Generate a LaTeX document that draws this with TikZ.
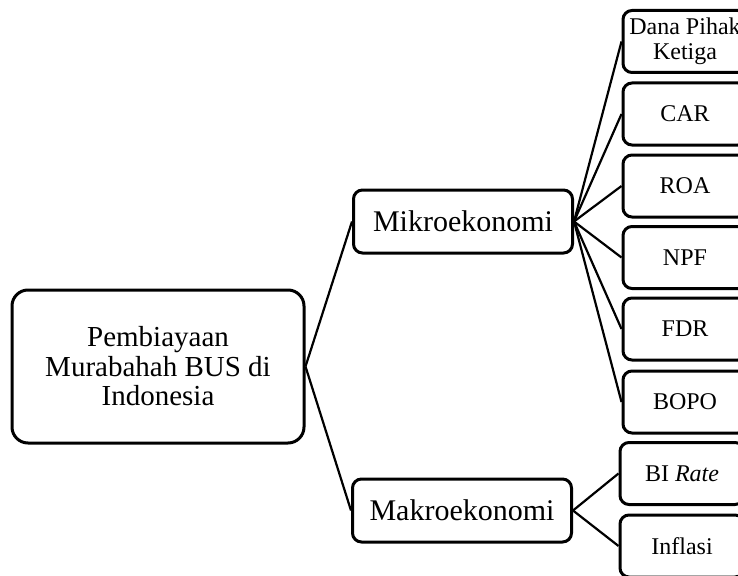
\documentclass[tikz,border=0pt]{standalone}
\usepackage{fontspec}
\setmainfont{Liberation Serif}

\begin{document}
\begin{tikzpicture}[x=1pt,y=-1pt,
  box/.style={draw,line width=3pt,rounded corners=9pt,align=center,inner sep=0pt},
  root box/.style={box,rounded corners=16pt,minimum width=292pt,minimum height=153pt,font=\fontsize{29}{29.5}\selectfont},
  mid box/.style={box,minimum width=219pt,minimum height=63pt,font=\fontsize{30}{30}\selectfont},
  leaf box/.style={box,minimum width=124pt,minimum height=62pt,font=\fontsize{24}{25}\selectfont},
  link/.style={line width=2.2pt}]
  \useasboundingbox (0,0) rectangle (738,575);
  \path[clip] (0,0) rectangle (738,575);

  \node[root box] (root) at (158,366.5) {Pembiayaan\\Murabahah BUS di\\Indonesia};
  \node[mid box] (mikro) at (463,221.5) {Mikroekonomi};
  \node[mid box] (makro) at (462,510.5) {Makroekonomi};

  \node[leaf box] (dpk) at (685,41.5) {Dana Pihak\\Ketiga};
  \node[leaf box] (car) at (685,114) {CAR};
  \node[leaf box] (roa) at (685,186) {ROA};
  \node[leaf box] (npf) at (685,257.5) {NPF};
  \node[leaf box] (fdr) at (685,329) {FDR};
  \node[leaf box] (bopo) at (685,402) {BOPO};
  \node[leaf box] (birate) at (682,473.5) {BI \textit{Rate}};
  \node[leaf box] (inflasi) at (682,546) {Inflasi};

  \draw[link] (root.east) -- (mikro.west);
  \draw[link] (root.east) -- (makro.west);

  \draw[link] (mikro.east) -- (dpk.west);
  \draw[link] (mikro.east) -- (car.west);
  \draw[link] (mikro.east) -- (roa.west);
  \draw[link] (mikro.east) -- (npf.west);
  \draw[link] (mikro.east) -- (fdr.west);
  \draw[link] (mikro.east) -- (bopo.west);

  \draw[link] (makro.east) -- (birate.west);
  \draw[link] (makro.east) -- (inflasi.west);
\end{tikzpicture}
\end{document}
